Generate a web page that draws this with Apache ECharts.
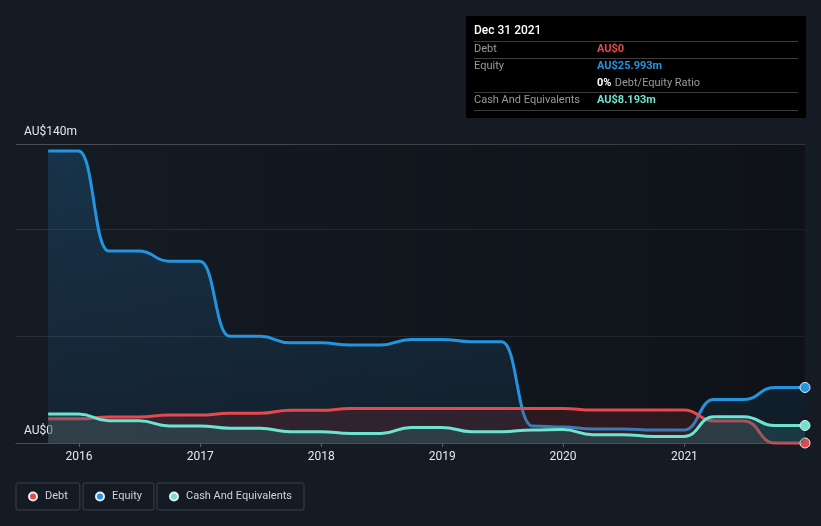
<!DOCTYPE html>
<html>
<head>
<meta charset="utf-8">
<script src="https://cdn.jsdelivr.net/npm/echarts@6/dist/echarts.min.js"></script>
<style>
html,body{margin:0;padding:0;background:#151b24;}
#chart{width:821px;height:526px;}
</style>
</head>
<body>
<div id="chart"></div>
<script>
// ---- data (AU$ millions) ----
const dates = [
  '2015-09-30','2015-12-31','2016-03-31','2016-06-30','2016-09-30','2016-12-31',
  '2017-03-31','2017-06-30','2017-09-30','2017-12-31','2018-03-31','2018-06-30',
  '2018-09-30','2018-12-31','2019-03-31','2019-06-30','2019-09-30','2019-12-31',
  '2020-03-31','2020-06-30','2020-09-30','2020-12-31','2021-03-31','2021-06-30',
  '2021-09-30','2021-12-31'
];
const debt = [
  11.3, 11.3, 12.2, 12.2, 13.1, 13.1,
  13.9, 13.9, 15.3, 15.3, 16.1, 16.1,
  16.2, 16.2, 16.2, 16.2, 16.2, 16.2,
  15.4, 15.4, 15.4, 15.4, 10.3, 10.3,
  0, 0
];
const equity = [
  136.7, 136.7, 89.9, 89.9, 85.1, 85.1,
  50.0, 50.0, 46.9, 46.9, 45.9, 45.9,
  48.5, 48.5, 47.4, 47.4, 8.0, 7.5,
  6.6, 6.6, 6.1, 6.1, 20.4, 20.4,
  26.0, 25.993
];
const cash = [
  13.6, 13.6, 10.4, 10.4, 8.0, 8.0,
  6.9, 6.9, 5.3, 5.3, 4.5, 4.5,
  7.3, 7.3, 5.3, 5.3, 6.1, 6.3,
  3.9, 3.9, 3.1, 3.1, 12.3, 12.3,
  8.2, 8.193
];
const yMax = 140;
const yInterval = 50;
const yTickLabels = { 0: 'AU$0', 140: 'AU$140m' };
const axisStart = '2015-06-25';
const seriesNames = ['Debt', 'Equity', 'Cash And Equivalents'];
const tooltipDate = 'Dec 31 2021';
const tooltipRows = [
  { label: 'Debt', value: 'AU$0' },
  { label: 'Equity', value: 'AU$25.993m' },
  { label: '', value: '0%', extra: 'Debt/Equity Ratio' },
  { label: 'Cash And Equivalents', value: 'AU$8.193m' }
];

const COLORS = { debt: '#e5484d', equity: '#2394df', cash: '#6de3d0' };
const FONT = 'Roboto, "Noto Sans", sans-serif';

function pairs(vals) {
  return vals.map((v, i) => {
    const item = { value: [dates[i], v] };
    if (i === vals.length - 1) {
      item.symbol = 'circle';
      item.symbolSize = 10;
    }
    return item;
  });
}

function lineSeries(name, vals, color, area, z) {
  return {
    name: name,
    type: 'line',
    data: pairs(vals),
    smooth: 0.5,
    smoothMonotone: 'x',
    symbol: 'none',
    showSymbol: true,
    showAllSymbol: true,
    clip: false,
    z: z,
    lineStyle: { color: color, width: 3 },
    itemStyle: { color: color, borderColor: '#e8eef4', borderWidth: 1 },
    areaStyle: area,
    emphasis: { disabled: true },
    silent: true
  };
}

const chart = echarts.init(document.getElementById('chart'), null, { renderer: 'canvas' });

const tooltipGraphic = (function () {
  const left = 474, valX = 597, right = 798;
  const els = [];
  els.push({ type: 'rect', shape: { x: 466, y: 16, width: 340, height: 102 }, style: { fill: '#000000' }, z: 100 });
  els.push({ type: 'text', z: 101, style: { text: tooltipDate, x: left, y: 31, fill: '#ffffff', fontSize: 12, fontFamily: FONT, fontWeight: 500, verticalAlign: 'middle' } });
  const lineYs = [41, 58, 92, 110];
  lineYs.forEach(y => els.push({ type: 'line', z: 101, shape: { x1: left, y1: y + 0.5, x2: right, y2: y + 0.5 }, style: { stroke: '#3d3d3d', lineWidth: 1 } }));
  const rowYs = [49, 66, 83, 100];
  const valColors = [COLORS.debt, COLORS.equity, '#ffffff', COLORS.cash];
  tooltipRows.forEach((r, i) => {
    if (r.label) {
      els.push({ type: 'text', z: 101, style: { text: r.label, x: left, y: rowYs[i], fill: '#9a9a9a', fontSize: 11, fontFamily: FONT, verticalAlign: 'middle' } });
    }
    if (r.extra) {
      els.push({ type: 'text', z: 101, style: {
        text: '{v|' + r.value + '} {e|' + r.extra + '}', x: valX, y: rowYs[i], verticalAlign: 'middle',
        rich: {
          v: { fill: '#ffffff', fontSize: 11, fontWeight: 'bold', fontFamily: FONT },
          e: { fill: '#9a9a9a', fontSize: 11, fontFamily: FONT }
        }
      } });
    } else {
      els.push({ type: 'text', z: 101, style: { text: r.value, x: valX, y: rowYs[i], fill: valColors[i], fontSize: 11, fontWeight: 'bold', fontFamily: FONT, verticalAlign: 'middle' } });
    }
  });
  return els;
})();

function legendFor(name, left) {
  return {
    data: [name],
    left: left,
    top: 483,
    orient: 'horizontal',
    icon: 'circle',
    itemWidth: 8,
    itemHeight: 8,
    padding: [7, 12, 7, 12],
    borderColor: '#3a4049',
    borderWidth: 1,
    borderRadius: 2,
    selectedMode: false,
    textStyle: { color: '#cfd3d8', fontSize: 11, fontFamily: FONT, lineHeight: 13, padding: [0, 0, 0, 3] }
  };
}

const option = {
  backgroundColor: '#151b24',
  animation: false,
  grid: { left: 16, right: 16, top: 144, bottom: 83, containLabel: false },
  legend: [
    legendFor(seriesNames[0], 16),
    legendFor(seriesNames[1], 83),
    legendFor(seriesNames[2], 157)
  ],
  xAxis: {
    type: 'time',
    min: axisStart,
    max: dates[dates.length - 1],
    minInterval: 365 * 24 * 3600 * 1000,
    maxInterval: 366 * 24 * 3600 * 1000,
    axisLine: { show: true, lineStyle: { color: '#4a4f58', width: 1 } },
    axisTick: { show: true, length: 4, lineStyle: { color: '#5a5f67' } },
    splitLine: { show: false },
    axisLabel: {
      color: '#e6e8eb', fontSize: 12, fontFamily: FONT, margin: 8,
      formatter: '{yyyy}',
      showMinLabel: false, showMaxLabel: false
    }
  },
  yAxis: {
    type: 'value',
    min: 0,
    max: yMax,
    interval: yInterval,
    axisLine: { show: false },
    axisTick: { show: false },
    splitLine: { show: true, lineStyle: { color: ['#4a4f58', '#2a3039', '#2a3039', '#4a4f58'], width: 1 } },
    axisLabel: {
      inside: true,
      margin: 8,
      verticalAlign: 'bottom',
      padding: [0, 0, 6, 0],
      color: '#e6e8eb', fontSize: 12, fontFamily: FONT,
      formatter: v => (yTickLabels[v] !== undefined ? yTickLabels[v] : '')
    }
  },
  graphic: tooltipGraphic,
  series: [
    {
      name: 'plotBackground',
      type: 'line',
      data: [],
      z: 0,
      silent: true,
      markArea: {
        silent: true,
        itemStyle: {
          color: new echarts.graphic.LinearGradient(0, 0, 1, 0, [
            { offset: 0, color: 'rgba(0,0,0,0.02)' },
            { offset: 1, color: 'rgba(0,0,0,0.32)' }
          ])
        },
        data: [[{ xAxis: dates[0] }, { xAxis: dates[dates.length - 1] }]]
      }
    },
    lineSeries(seriesNames[1], equity, COLORS.equity, {
      color: new echarts.graphic.LinearGradient(0, 0, 0, 1, [
        { offset: 0, color: 'rgba(35,148,223,0.29)' },
        { offset: 1, color: 'rgba(35,148,223,0.10)' }
      ])
    }, 2),
    lineSeries(seriesNames[0], debt, COLORS.debt, { color: 'rgba(140,40,45,0.34)' }, 3),
    lineSeries(seriesNames[2], cash, COLORS.cash, { color: 'rgba(45,110,118,0.5)' }, 4)
  ]
};

chart.setOption(option);
</script>
</body>
</html>
